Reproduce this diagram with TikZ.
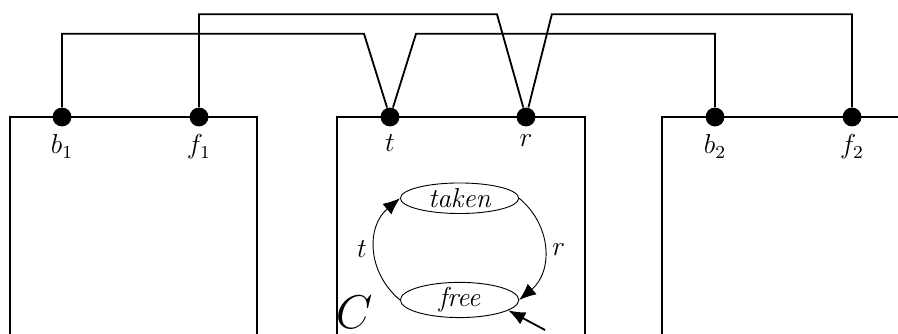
\documentclass[tikz,border=0pt]{standalone}
\usepackage{amsmath,amssymb}
\usepackage{tikz}
\usetikzlibrary{arrows.meta,positioning,calc,shapes.geometric}

\begin{document}
\begin{tikzpicture}[
  >={Latex[length=2.6mm, width=2.1mm]},
  port/.style={
    circle, fill=black, inner sep=0pt, minimum size=0.29cm,
    label distance=-1pt
  },
  comp/.style={thick},
  wire/.style={thick},
  state/.style={
    ellipse, draw, thin, minimum width=1.82cm, minimum height=0.47cm,
    inner sep=0pt, font=\large\itshape
  },
  trans/.style={thin, ->},
  lbl/.style={font=\large, midway},
  every label/.style={font=\large}
]
\clip (0,0) rectangle (13.815,-5.138);

% -- Componentes --
\draw[comp] (0.154,-5.2) -- (0.154,-1.8) -- (3.954,-1.8) -- (3.954,-5.2);
\draw[comp] (5.185,-5.2) -- (5.185,-1.8) -- (9.0,-1.8) -- (9.0,-5.2);
\draw[comp] (10.185,-5.2) -- (10.185,-1.8) -- (14.0,-1.8);

% -- Portas --
\node[port, label=below:$b_1$] (b1) at ( 0.954, -1.8) {};
\node[port, label=below:$f_1$] (f1) at ( 3.062, -1.8) {};
\node[port, label=below:$t$]   (t)  at ( 6.0,   -1.8) {};
\node[port, label=below:$r$]   (r)  at ( 8.092, -1.8) {};
\node[port, label=below:$b_2$] (b2) at (11.0,   -1.8) {};
\node[port, label=below:$f_2$] (f2) at (13.108, -1.8) {};

% -- Ligacoes --
\draw[wire] (b1) |- (5.6,-0.52) -- (t);
\draw[wire] (t) -- (6.4,-0.52) -| (b2);
\draw[wire] (f1) |- (7.646,-0.22) -- (r);
\draw[wire] (r) -- (8.49,-0.22) -| (f2);

% -- Estados de C --
\node[state] (taken) at (7.07, -3.05)  {taken};
\node[state] (free)  at (7.07, -4.615) {free};
\node[font=\huge] (cname) at (5.45, -4.8) {$C$};
\coordinate (init) at (8.385, -5.077);

\draw[trans] (free.west) to[out=140, in=220, looseness=1.1]
  node[lbl, left]{$t$} (taken.west);
\draw[trans] (taken.east) to[out=-40, in=40, looseness=1.1]
  node[lbl, right]{$r$} (free.east);
\draw[thick, ->] (init) -- (free.-12);

\end{tikzpicture}
\end{document}
